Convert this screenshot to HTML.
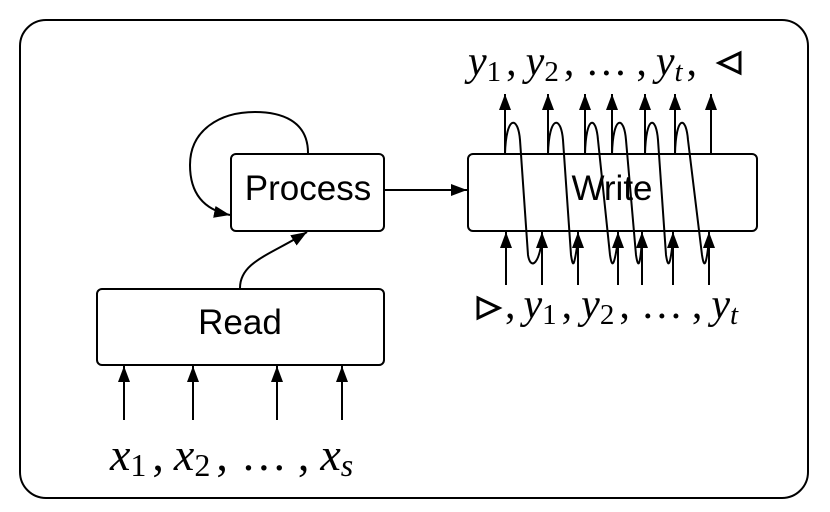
<!DOCTYPE html>
<html><head><style>
body{margin:0;background:#fff}
.s{font-family:"Liberation Serif",serif}
.l{font-family:"Liberation Sans",sans-serif}
</style></head><body>
<svg width="830" height="507" viewBox="0 0 830 507" xmlns="http://www.w3.org/2000/svg">
<defs><marker id="b" markerWidth="16" markerHeight="12" refX="16" refY="6" orient="auto" markerUnits="userSpaceOnUse"><path d="M0,0 L16,6 L0,12z" fill="#000"/></marker></defs>
<rect x="20" y="20" width="788" height="478" rx="26" fill="none" stroke="#000" stroke-width="2"/>
<g fill="none" stroke="#000" stroke-width="2">
<rect x="231" y="154" width="153" height="77" rx="5" fill="#fff"/>
<rect x="97" y="289" width="287" height="76" rx="5" fill="#fff"/>
<rect x="468" y="154" width="289" height="77" rx="5" fill="#fff"/>
<path d="M308,153 C308,120 280,112 255,112 C220,112 190,130 190,165 C190,195 205,210 230,215" marker-end="url(#b)"/>
<path d="M240,288 C240,262 270,255 307,232" marker-end="url(#b)"/>
<line x1="385" y1="190" x2="467" y2="190" marker-end="url(#b)"/>
<g marker-end="url(#b)">
<line x1="124" y1="420" x2="124" y2="366"/><line x1="193" y1="420" x2="193" y2="366"/>
<line x1="277" y1="420" x2="277" y2="366"/><line x1="342" y1="420" x2="342" y2="366"/>
<line x1="505" y1="154" x2="505" y2="94"/><line x1="548" y1="154" x2="548" y2="94"/>
<line x1="585" y1="154" x2="585" y2="94"/><line x1="612" y1="154" x2="612" y2="94"/>
<line x1="645" y1="154" x2="645" y2="94"/><line x1="675" y1="154" x2="675" y2="94"/>
<line x1="711" y1="154" x2="711" y2="94"/>
<line x1="506" y1="285" x2="506" y2="232"/><line x1="542" y1="285" x2="542" y2="232"/>
<line x1="578" y1="285" x2="578" y2="232"/><line x1="618" y1="285" x2="618" y2="232"/>
<line x1="642" y1="285" x2="642" y2="232"/><line x1="673" y1="285" x2="673" y2="232"/>
<line x1="709" y1="285" x2="709" y2="232"/>
</g>
<path d="M505,154 C506,115 518,115 520,140 L528,255 C530,268 538,268 542,240"/>
<path d="M548,154 C549,115 561,115 563,140 L571,255 C573,268 574,268 578,240"/>
<path d="M585,154 C586,115 596,115 598,140 L610,255 C612,268 614,268 618,240"/>
<path d="M612,154 C613,115 624,115 626,140 L636,255 C638,268 640,268 642,240"/>
<path d="M645,154 C646,115 656,115 658,140 L666,255 C668,268 670,268 673,240"/>
<path d="M675,154 C676,115 686,115 688,140 L702,255 C704,268 706,268 709,240"/>
<path d="M719,63 L740,53 L740,73 Z" stroke-width="3"/>
<path d="M478,298 L499,308 L478,318 Z" stroke-width="3"/>
</g>
<g font-size="35" text-anchor="middle" class="l">
<text x="308" y="200" class="l">Process</text>
<text x="240" y="334" class="l">Read</text>
<text x="612" y="200" class="l">Write</text>
</g>
<text x="468" y="75" font-size="42" class="s"><tspan font-style="italic">y</tspan><tspan font-size="29" dy="6">1</tspan><tspan dy="-6" dx="5">,</tspan><tspan dx="9" font-style="italic">y</tspan><tspan font-size="29" dy="6">2</tspan><tspan dy="-6" dx="5">,</tspan><tspan dx="11">…</tspan><tspan dx="9">,</tspan><tspan dx="9" font-style="italic">y</tspan><tspan font-size="29" dy="6" font-style="italic">t</tspan><tspan dy="-6" dx="4">,</tspan></text>
<text x="505" y="318" font-size="42" class="s"><tspan>,</tspan><tspan dx="8" font-style="italic">y</tspan><tspan font-size="29" dy="6">1</tspan><tspan dy="-6" dx="5">,</tspan><tspan dx="9" font-style="italic">y</tspan><tspan font-size="29" dy="6">2</tspan><tspan dy="-6" dx="5">,</tspan><tspan dx="11">…</tspan><tspan dx="9">,</tspan><tspan dx="9" font-style="italic">y</tspan><tspan font-size="29" dy="6" font-style="italic">t</tspan></text>
<text x="110" y="470" font-size="46" class="s"><tspan font-style="italic">x</tspan><tspan font-size="32" dy="6">1</tspan><tspan dy="-6" dx="6">,</tspan><tspan dx="10" font-style="italic">x</tspan><tspan font-size="32" dy="6">2</tspan><tspan dy="-6" dx="6">,</tspan><tspan dx="13">…</tspan><tspan dx="11">,</tspan><tspan dx="11" font-style="italic">x</tspan><tspan font-size="32" dy="6" font-style="italic">s</tspan></text>
</svg>
</body></html>
